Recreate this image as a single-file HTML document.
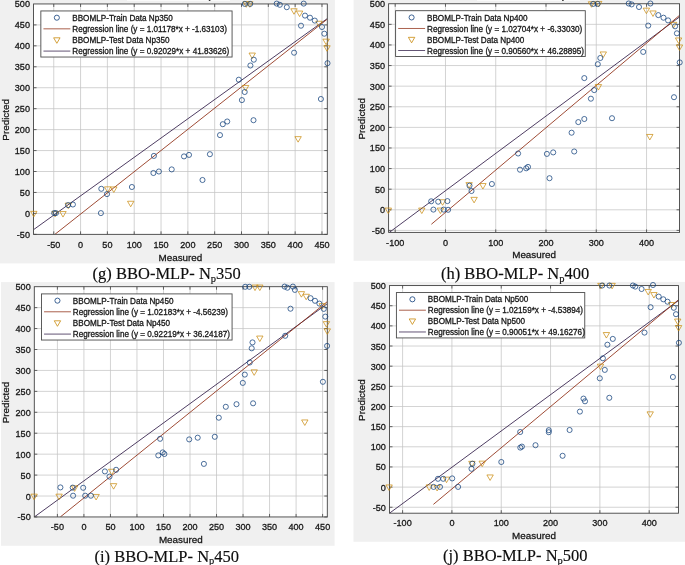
<!DOCTYPE html>
<html><head><meta charset="utf-8"><title>BBO-MLP regression plots</title>
<style>html,body{margin:0;padding:0;background:#fff;}body{width:685px;height:565px;overflow:hidden;}svg{display:block;}text{font-family:"Liberation Sans", sans-serif;fill:#161616;stroke:#161616;stroke-width:0.28px;}.cap{font-family:"Liberation Serif", serif;fill:#0c0c0c;stroke:#0c0c0c;stroke-width:0.15px;}</style>
</head><body>
<svg width="685" height="565" viewBox="0 0 685 565">
<defs><filter id="soft" x="-10" y="-10" width="705" height="585" filterUnits="userSpaceOnUse"><feGaussianBlur stdDeviation="0.38"/></filter></defs>
<rect x="0" y="0" width="685" height="565" fill="#ffffff"/>
<g filter="url(#soft)">
<rect x="-10" y="-10" width="705" height="585" fill="#ffffff"/>
<g>
<rect x="-6" y="-6" width="340.9" height="269.4" fill="#f0f0f0"/>
<rect x="33.55" y="3.95" width="293.75" height="230.4" fill="#ffffff"/>
<path d="M53.75 3.95V234.35M80.57 3.95V234.35M107.39 3.95V234.35M134.21 3.95V234.35M161.04 3.95V234.35M187.86 3.95V234.35M214.68 3.95V234.35M241.5 3.95V234.35M268.32 3.95V234.35M295.15 3.95V234.35M321.97 3.95V234.35M33.55 213.41H327.3M33.55 192.46H327.3M33.55 171.51H327.3M33.55 150.57H327.3M33.55 129.62H327.3M33.55 108.68H327.3M33.55 87.73H327.3M33.55 66.79H327.3M33.55 45.84H327.3M33.55 24.9H327.3" stroke="#c4c4c4" stroke-width="0.75" fill="none"/>
<clipPath id="c0"><rect x="33.55" y="3.95" width="293.75" height="230.4"/></clipPath>
<g clip-path="url(#c0)">
<line x1="33.9" y1="229.42" x2="327.6" y2="18.35" stroke="#2f1b47" stroke-width="0.85"/>
<line x1="54.82" y1="234.43" x2="326.8" y2="19.54" stroke="#8e2c12" stroke-width="0.85"/>
</g>
<path d="M53.75 234.35v-3M53.75 3.95v3M80.57 234.35v-3M80.57 3.95v3M107.39 234.35v-3M107.39 3.95v3M134.21 234.35v-3M134.21 3.95v3M161.04 234.35v-3M161.04 3.95v3M187.86 234.35v-3M187.86 3.95v3M214.68 234.35v-3M214.68 3.95v3M241.5 234.35v-3M241.5 3.95v3M268.32 234.35v-3M268.32 3.95v3M295.15 234.35v-3M295.15 3.95v3M321.97 234.35v-3M321.97 3.95v3M33.55 234.35h3M327.3 234.35h-3M33.55 213.41h3M327.3 213.41h-3M33.55 192.46h3M327.3 192.46h-3M33.55 171.51h3M327.3 171.51h-3M33.55 150.57h3M327.3 150.57h-3M33.55 129.62h3M327.3 129.62h-3M33.55 108.68h3M327.3 108.68h-3M33.55 87.73h3M327.3 87.73h-3M33.55 66.79h3M327.3 66.79h-3M33.55 45.84h3M327.3 45.84h-3M33.55 24.9h3M327.3 24.9h-3" stroke="#424242" stroke-width="0.8" fill="none"/>
<rect x="33.55" y="3.95" width="293.75" height="230.4" fill="none" stroke="#424242" stroke-width="0.9"/>
<path d="M30.6 211.35L37 211.35L33.8 216.85Z" fill="none" stroke="#c98a0c" stroke-width="0.72" stroke-linejoin="miter"/>
<path d="M51.9 211.35L58.3 211.35L55.1 216.85Z" fill="none" stroke="#c98a0c" stroke-width="0.72" stroke-linejoin="miter"/>
<path d="M59.8 211.55L66.2 211.55L63 217.05Z" fill="none" stroke="#c98a0c" stroke-width="0.72" stroke-linejoin="miter"/>
<path d="M65.1 203.15L71.5 203.15L68.3 208.65Z" fill="none" stroke="#c98a0c" stroke-width="0.72" stroke-linejoin="miter"/>
<path d="M104.4 186.85L110.8 186.85L107.6 192.35Z" fill="none" stroke="#c98a0c" stroke-width="0.72" stroke-linejoin="miter"/>
<path d="M110.6 186.95L117 186.95L113.8 192.45Z" fill="none" stroke="#c98a0c" stroke-width="0.72" stroke-linejoin="miter"/>
<path d="M127.5 201.25L133.9 201.25L130.7 206.75Z" fill="none" stroke="#c98a0c" stroke-width="0.72" stroke-linejoin="miter"/>
<path d="M242.4 85.45L248.8 85.45L245.6 90.95Z" fill="none" stroke="#c98a0c" stroke-width="0.72" stroke-linejoin="miter"/>
<path d="M294.9 136.65L301.3 136.65L298.1 142.15Z" fill="none" stroke="#c98a0c" stroke-width="0.72" stroke-linejoin="miter"/>
<path d="M243.1 1.75L249.5 1.75L246.3 7.25Z" fill="none" stroke="#c98a0c" stroke-width="0.72" stroke-linejoin="miter"/>
<path d="M246.6 1.75L253 1.75L249.8 7.25Z" fill="none" stroke="#c98a0c" stroke-width="0.72" stroke-linejoin="miter"/>
<path d="M290.8 8.75L297.2 8.75L294 14.25Z" fill="none" stroke="#c98a0c" stroke-width="0.72" stroke-linejoin="miter"/>
<path d="M296.4 11.05L302.8 11.05L299.6 16.55Z" fill="none" stroke="#c98a0c" stroke-width="0.72" stroke-linejoin="miter"/>
<path d="M315.8 21.25L322.2 21.25L319 26.75Z" fill="none" stroke="#c98a0c" stroke-width="0.72" stroke-linejoin="miter"/>
<path d="M322.9 39.15L329.3 39.15L326.1 44.65Z" fill="none" stroke="#c98a0c" stroke-width="0.72" stroke-linejoin="miter"/>
<path d="M323.8 45.75L330.2 45.75L327 51.25Z" fill="none" stroke="#c98a0c" stroke-width="0.72" stroke-linejoin="miter"/>
<path d="M249 53.05L255.4 53.05L252.2 58.55Z" fill="none" stroke="#c98a0c" stroke-width="0.72" stroke-linejoin="miter"/>
<circle cx="54.2" cy="213.1" r="2.55" fill="none" stroke="#0f3e7a" stroke-width="0.74"/>
<circle cx="55.9" cy="213.1" r="2.55" fill="none" stroke="#0f3e7a" stroke-width="0.74"/>
<circle cx="68.1" cy="205.1" r="2.55" fill="none" stroke="#0f3e7a" stroke-width="0.74"/>
<circle cx="72.9" cy="204.5" r="2.55" fill="none" stroke="#0f3e7a" stroke-width="0.74"/>
<circle cx="101.3" cy="188.8" r="2.55" fill="none" stroke="#0f3e7a" stroke-width="0.74"/>
<circle cx="107" cy="194.1" r="2.55" fill="none" stroke="#0f3e7a" stroke-width="0.74"/>
<circle cx="100.9" cy="213.1" r="2.55" fill="none" stroke="#0f3e7a" stroke-width="0.74"/>
<circle cx="131.9" cy="187" r="2.55" fill="none" stroke="#0f3e7a" stroke-width="0.74"/>
<circle cx="153.9" cy="155.9" r="2.55" fill="none" stroke="#0f3e7a" stroke-width="0.74"/>
<circle cx="153.4" cy="173" r="2.55" fill="none" stroke="#0f3e7a" stroke-width="0.74"/>
<circle cx="158.9" cy="171.5" r="2.55" fill="none" stroke="#0f3e7a" stroke-width="0.74"/>
<circle cx="171.7" cy="169.4" r="2.55" fill="none" stroke="#0f3e7a" stroke-width="0.74"/>
<circle cx="184" cy="156.4" r="2.55" fill="none" stroke="#0f3e7a" stroke-width="0.74"/>
<circle cx="189" cy="154.9" r="2.55" fill="none" stroke="#0f3e7a" stroke-width="0.74"/>
<circle cx="202.5" cy="180" r="2.55" fill="none" stroke="#0f3e7a" stroke-width="0.74"/>
<circle cx="209.9" cy="154.2" r="2.55" fill="none" stroke="#0f3e7a" stroke-width="0.74"/>
<circle cx="220" cy="135.1" r="2.55" fill="none" stroke="#0f3e7a" stroke-width="0.74"/>
<circle cx="222.8" cy="124.2" r="2.55" fill="none" stroke="#0f3e7a" stroke-width="0.74"/>
<circle cx="227.2" cy="121.5" r="2.55" fill="none" stroke="#0f3e7a" stroke-width="0.74"/>
<circle cx="253.5" cy="120.2" r="2.55" fill="none" stroke="#0f3e7a" stroke-width="0.74"/>
<circle cx="241.9" cy="100.1" r="2.55" fill="none" stroke="#0f3e7a" stroke-width="0.74"/>
<circle cx="244.7" cy="92" r="2.55" fill="none" stroke="#0f3e7a" stroke-width="0.74"/>
<circle cx="238.8" cy="79.7" r="2.55" fill="none" stroke="#0f3e7a" stroke-width="0.74"/>
<circle cx="250.4" cy="65.5" r="2.55" fill="none" stroke="#0f3e7a" stroke-width="0.74"/>
<circle cx="253.8" cy="59.7" r="2.55" fill="none" stroke="#0f3e7a" stroke-width="0.74"/>
<circle cx="320.9" cy="99" r="2.55" fill="none" stroke="#0f3e7a" stroke-width="0.74"/>
<circle cx="327.5" cy="63.2" r="2.55" fill="none" stroke="#0f3e7a" stroke-width="0.74"/>
<circle cx="244.8" cy="3.9" r="2.55" fill="none" stroke="#0f3e7a" stroke-width="0.74"/>
<circle cx="250.2" cy="3.9" r="2.55" fill="none" stroke="#0f3e7a" stroke-width="0.74"/>
<circle cx="276.7" cy="3.6" r="2.55" fill="none" stroke="#0f3e7a" stroke-width="0.74"/>
<circle cx="279.8" cy="4.8" r="2.55" fill="none" stroke="#0f3e7a" stroke-width="0.74"/>
<circle cx="286.8" cy="7.2" r="2.55" fill="none" stroke="#0f3e7a" stroke-width="0.74"/>
<circle cx="303.7" cy="3.6" r="2.55" fill="none" stroke="#0f3e7a" stroke-width="0.74"/>
<circle cx="305" cy="15.6" r="2.55" fill="none" stroke="#0f3e7a" stroke-width="0.74"/>
<circle cx="310" cy="17.7" r="2.55" fill="none" stroke="#0f3e7a" stroke-width="0.74"/>
<circle cx="314.8" cy="20.6" r="2.55" fill="none" stroke="#0f3e7a" stroke-width="0.74"/>
<circle cx="301" cy="25.7" r="2.55" fill="none" stroke="#0f3e7a" stroke-width="0.74"/>
<circle cx="322" cy="27" r="2.55" fill="none" stroke="#0f3e7a" stroke-width="0.74"/>
<circle cx="324.3" cy="33.7" r="2.55" fill="none" stroke="#0f3e7a" stroke-width="0.74"/>
<circle cx="294.1" cy="52.7" r="2.55" fill="none" stroke="#0f3e7a" stroke-width="0.74"/>
<text transform="translate(53.75 247.8) scale(1 1.09)" font-size="9.1" text-anchor="middle">-50</text>
<text transform="translate(80.57 247.8) scale(1 1.09)" font-size="9.1" text-anchor="middle">0</text>
<text transform="translate(107.39 247.8) scale(1 1.09)" font-size="9.1" text-anchor="middle">50</text>
<text transform="translate(134.21 247.8) scale(1 1.09)" font-size="9.1" text-anchor="middle">100</text>
<text transform="translate(161.04 247.8) scale(1 1.09)" font-size="9.1" text-anchor="middle">150</text>
<text transform="translate(187.86 247.8) scale(1 1.09)" font-size="9.1" text-anchor="middle">200</text>
<text transform="translate(214.68 247.8) scale(1 1.09)" font-size="9.1" text-anchor="middle">250</text>
<text transform="translate(241.5 247.8) scale(1 1.09)" font-size="9.1" text-anchor="middle">300</text>
<text transform="translate(268.32 247.8) scale(1 1.09)" font-size="9.1" text-anchor="middle">350</text>
<text transform="translate(295.15 247.8) scale(1 1.09)" font-size="9.1" text-anchor="middle">400</text>
<text transform="translate(321.97 247.8) scale(1 1.09)" font-size="9.1" text-anchor="middle">450</text>
<text transform="translate(29.95 237.85) scale(1 1.09)" font-size="9.1" text-anchor="end">-50</text>
<text transform="translate(29.95 216.91) scale(1 1.09)" font-size="9.1" text-anchor="end">0</text>
<text transform="translate(29.95 195.96) scale(1 1.09)" font-size="9.1" text-anchor="end">50</text>
<text transform="translate(29.95 175.01) scale(1 1.09)" font-size="9.1" text-anchor="end">100</text>
<text transform="translate(29.95 154.07) scale(1 1.09)" font-size="9.1" text-anchor="end">150</text>
<text transform="translate(29.95 133.12) scale(1 1.09)" font-size="9.1" text-anchor="end">200</text>
<text transform="translate(29.95 112.18) scale(1 1.09)" font-size="9.1" text-anchor="end">250</text>
<text transform="translate(29.95 91.23) scale(1 1.09)" font-size="9.1" text-anchor="end">300</text>
<text transform="translate(29.95 70.29) scale(1 1.09)" font-size="9.1" text-anchor="end">350</text>
<text transform="translate(29.95 49.34) scale(1 1.09)" font-size="9.1" text-anchor="end">400</text>
<text transform="translate(29.95 28.4) scale(1 1.09)" font-size="9.1" text-anchor="end">450</text>
<text transform="translate(29.95 7.45) scale(1 1.09)" font-size="9.1" text-anchor="end">500</text>
<text transform="translate(180.43 261) scale(1 1)" font-size="9.85" text-anchor="middle">Measured</text>
<text transform="translate(9.4 119.85) rotate(-90) scale(1 0.98)" font-size="9.85" text-anchor="middle">Predicted</text>
<rect x="40.85" y="10.95" width="191.22" height="46.08" fill="#ffffff" stroke="#4a4a4a" stroke-width="0.9"/>
<circle cx="56.85" cy="17.7" r="2.55" fill="none" stroke="#0f3e7a" stroke-width="0.8"/>
<line x1="43.45" y1="28.83" x2="70.35" y2="28.83" stroke="#8e2c12" stroke-width="0.75"/>
<path d="M53.65 37.8L60.05 37.8L56.85 43.3Z" fill="none" stroke="#c98a0c" stroke-width="0.8"/>
<line x1="43.45" y1="51.08" x2="70.35" y2="51.08" stroke="#2f1b47" stroke-width="0.75"/>
<text transform="translate(72.25 20.8) scale(1 1.09)" font-size="8.15">BBOMLP-Train Data Np350</text>
<text transform="translate(72.25 31.93) scale(1 1.09)" font-size="8.15">Regression line (y = 1.01178*x + -1.63103)</text>
<text transform="translate(72.25 43.05) scale(1 1.09)" font-size="8.15">BBOMLP-Test Data Np350</text>
<text transform="translate(72.25 54.18) scale(1 1.09)" font-size="8.15">Regression line (y = 0.92029*x + 41.83626)</text>
</g>
<g>
<rect x="353.6" y="-6" width="337.4" height="266.8" fill="#f0f0f0"/>
<rect x="388.6" y="3.75" width="290.95" height="228.65" fill="#ffffff"/>
<path d="M395.2 3.75V232.4M445.47 3.75V232.4M495.74 3.75V232.4M546.01 3.75V232.4M596.28 3.75V232.4M646.55 3.75V232.4M388.6 230.4H679.55M388.6 209.8H679.55M388.6 189.19H679.55M388.6 168.59H679.55M388.6 147.98H679.55M388.6 127.38H679.55M388.6 106.77H679.55M388.6 86.17H679.55M388.6 65.56H679.55M388.6 44.96H679.55M388.6 24.35H679.55" stroke="#c4c4c4" stroke-width="0.75" fill="none"/>
<clipPath id="c1"><rect x="388.6" y="3.75" width="290.95" height="228.65"/></clipPath>
<g clip-path="url(#c1)">
<line x1="388.41" y1="233.08" x2="680.48" y2="16.25" stroke="#2f1b47" stroke-width="0.85"/>
<line x1="431.39" y1="224.25" x2="680.48" y2="14.54" stroke="#8e2c12" stroke-width="0.85"/>
</g>
<path d="M395.2 232.4v-3M395.2 3.75v3M445.47 232.4v-3M445.47 3.75v3M495.74 232.4v-3M495.74 3.75v3M546.01 232.4v-3M546.01 3.75v3M596.28 232.4v-3M596.28 3.75v3M646.55 232.4v-3M646.55 3.75v3M388.6 230.4h3M679.55 230.4h-3M388.6 209.8h3M679.55 209.8h-3M388.6 189.19h3M679.55 189.19h-3M388.6 168.59h3M679.55 168.59h-3M388.6 147.98h3M679.55 147.98h-3M388.6 127.38h3M679.55 127.38h-3M388.6 106.77h3M679.55 106.77h-3M388.6 86.17h3M679.55 86.17h-3M388.6 65.56h3M679.55 65.56h-3M388.6 44.96h3M679.55 44.96h-3M388.6 24.35h3M679.55 24.35h-3" stroke="#424242" stroke-width="0.8" fill="none"/>
<rect x="388.6" y="3.75" width="290.95" height="228.65" fill="none" stroke="#424242" stroke-width="0.9"/>
<path d="M588.3 1.75L594.7 1.75L591.5 7.25Z" fill="none" stroke="#c98a0c" stroke-width="0.72" stroke-linejoin="miter"/>
<path d="M595.5 1.45L601.9 1.45L598.7 6.95Z" fill="none" stroke="#c98a0c" stroke-width="0.72" stroke-linejoin="miter"/>
<path d="M643.2 8.15L649.6 8.15L646.4 13.65Z" fill="none" stroke="#c98a0c" stroke-width="0.72" stroke-linejoin="miter"/>
<path d="M649.8 10.95L656.2 10.95L653 16.45Z" fill="none" stroke="#c98a0c" stroke-width="0.72" stroke-linejoin="miter"/>
<path d="M670.4 22.35L676.8 22.35L673.6 27.85Z" fill="none" stroke="#c98a0c" stroke-width="0.72" stroke-linejoin="miter"/>
<path d="M675.4 37.95L681.8 37.95L678.6 43.45Z" fill="none" stroke="#c98a0c" stroke-width="0.72" stroke-linejoin="miter"/>
<path d="M676.3 44.95L682.7 44.95L679.5 50.45Z" fill="none" stroke="#c98a0c" stroke-width="0.72" stroke-linejoin="miter"/>
<path d="M600.1 51.95L606.5 51.95L603.3 57.45Z" fill="none" stroke="#c98a0c" stroke-width="0.72" stroke-linejoin="miter"/>
<path d="M595.2 84.55L601.6 84.55L598.4 90.05Z" fill="none" stroke="#c98a0c" stroke-width="0.72" stroke-linejoin="miter"/>
<path d="M385.1 208.05L391.5 208.05L388.3 213.55Z" fill="none" stroke="#c98a0c" stroke-width="0.72" stroke-linejoin="miter"/>
<path d="M418.6 208.05L425 208.05L421.8 213.55Z" fill="none" stroke="#c98a0c" stroke-width="0.72" stroke-linejoin="miter"/>
<path d="M439.4 199.75L445.8 199.75L442.6 205.25Z" fill="none" stroke="#c98a0c" stroke-width="0.72" stroke-linejoin="miter"/>
<path d="M437.2 208.05L443.6 208.05L440.4 213.55Z" fill="none" stroke="#c98a0c" stroke-width="0.72" stroke-linejoin="miter"/>
<path d="M465.9 182.65L472.3 182.65L469.1 188.15Z" fill="none" stroke="#c98a0c" stroke-width="0.72" stroke-linejoin="miter"/>
<path d="M479.7 183.55L486.1 183.55L482.9 189.05Z" fill="none" stroke="#c98a0c" stroke-width="0.72" stroke-linejoin="miter"/>
<path d="M470.9 197.35L477.3 197.35L474.1 202.85Z" fill="none" stroke="#c98a0c" stroke-width="0.72" stroke-linejoin="miter"/>
<path d="M646.6 134.45L653 134.45L649.8 139.95Z" fill="none" stroke="#c98a0c" stroke-width="0.72" stroke-linejoin="miter"/>
<circle cx="593.2" cy="3.9" r="2.55" fill="none" stroke="#0f3e7a" stroke-width="0.74"/>
<circle cx="597.6" cy="3.9" r="2.55" fill="none" stroke="#0f3e7a" stroke-width="0.74"/>
<circle cx="628.7" cy="3.5" r="2.55" fill="none" stroke="#0f3e7a" stroke-width="0.74"/>
<circle cx="631.6" cy="4.4" r="2.55" fill="none" stroke="#0f3e7a" stroke-width="0.74"/>
<circle cx="639" cy="7" r="2.55" fill="none" stroke="#0f3e7a" stroke-width="0.74"/>
<circle cx="650.4" cy="3.5" r="2.55" fill="none" stroke="#0f3e7a" stroke-width="0.74"/>
<circle cx="648.2" cy="25.6" r="2.55" fill="none" stroke="#0f3e7a" stroke-width="0.74"/>
<circle cx="658.3" cy="15.1" r="2.55" fill="none" stroke="#0f3e7a" stroke-width="0.74"/>
<circle cx="663.5" cy="17.7" r="2.55" fill="none" stroke="#0f3e7a" stroke-width="0.74"/>
<circle cx="668.1" cy="20.4" r="2.55" fill="none" stroke="#0f3e7a" stroke-width="0.74"/>
<circle cx="675.1" cy="26.3" r="2.55" fill="none" stroke="#0f3e7a" stroke-width="0.74"/>
<circle cx="676.9" cy="33.3" r="2.55" fill="none" stroke="#0f3e7a" stroke-width="0.74"/>
<circle cx="643.2" cy="51.9" r="2.55" fill="none" stroke="#0f3e7a" stroke-width="0.74"/>
<circle cx="679.7" cy="62.4" r="2.55" fill="none" stroke="#0f3e7a" stroke-width="0.74"/>
<circle cx="674" cy="97.2" r="2.55" fill="none" stroke="#0f3e7a" stroke-width="0.74"/>
<circle cx="600.3" cy="58" r="2.55" fill="none" stroke="#0f3e7a" stroke-width="0.74"/>
<circle cx="597.8" cy="64.2" r="2.55" fill="none" stroke="#0f3e7a" stroke-width="0.74"/>
<circle cx="584.3" cy="78.1" r="2.55" fill="none" stroke="#0f3e7a" stroke-width="0.74"/>
<circle cx="594.2" cy="90.1" r="2.55" fill="none" stroke="#0f3e7a" stroke-width="0.74"/>
<circle cx="590.9" cy="98.7" r="2.55" fill="none" stroke="#0f3e7a" stroke-width="0.74"/>
<circle cx="584.3" cy="119" r="2.55" fill="none" stroke="#0f3e7a" stroke-width="0.74"/>
<circle cx="612" cy="118.2" r="2.55" fill="none" stroke="#0f3e7a" stroke-width="0.74"/>
<circle cx="578.3" cy="122.1" r="2.55" fill="none" stroke="#0f3e7a" stroke-width="0.74"/>
<circle cx="431.2" cy="201.3" r="2.55" fill="none" stroke="#0f3e7a" stroke-width="0.74"/>
<circle cx="438.2" cy="201.7" r="2.55" fill="none" stroke="#0f3e7a" stroke-width="0.74"/>
<circle cx="447.4" cy="201.1" r="2.55" fill="none" stroke="#0f3e7a" stroke-width="0.74"/>
<circle cx="433.4" cy="209.6" r="2.55" fill="none" stroke="#0f3e7a" stroke-width="0.74"/>
<circle cx="443.7" cy="209.6" r="2.55" fill="none" stroke="#0f3e7a" stroke-width="0.74"/>
<circle cx="448.1" cy="209.8" r="2.55" fill="none" stroke="#0f3e7a" stroke-width="0.74"/>
<circle cx="469.5" cy="185.7" r="2.55" fill="none" stroke="#0f3e7a" stroke-width="0.74"/>
<circle cx="471.5" cy="191" r="2.55" fill="none" stroke="#0f3e7a" stroke-width="0.74"/>
<circle cx="491.9" cy="184" r="2.55" fill="none" stroke="#0f3e7a" stroke-width="0.74"/>
<circle cx="518.1" cy="153.5" r="2.55" fill="none" stroke="#0f3e7a" stroke-width="0.74"/>
<circle cx="520" cy="169.7" r="2.55" fill="none" stroke="#0f3e7a" stroke-width="0.74"/>
<circle cx="526.2" cy="168.3" r="2.55" fill="none" stroke="#0f3e7a" stroke-width="0.74"/>
<circle cx="528" cy="166.9" r="2.55" fill="none" stroke="#0f3e7a" stroke-width="0.74"/>
<circle cx="571.6" cy="132.7" r="2.55" fill="none" stroke="#0f3e7a" stroke-width="0.74"/>
<circle cx="574.2" cy="151.5" r="2.55" fill="none" stroke="#0f3e7a" stroke-width="0.74"/>
<circle cx="553.2" cy="152.4" r="2.55" fill="none" stroke="#0f3e7a" stroke-width="0.74"/>
<circle cx="546.9" cy="153.9" r="2.55" fill="none" stroke="#0f3e7a" stroke-width="0.74"/>
<circle cx="549.5" cy="178.2" r="2.55" fill="none" stroke="#0f3e7a" stroke-width="0.74"/>
<text transform="translate(395.2 245.7) scale(1 1.09)" font-size="9.1" text-anchor="middle">-100</text>
<text transform="translate(445.47 245.7) scale(1 1.09)" font-size="9.1" text-anchor="middle">0</text>
<text transform="translate(495.74 245.7) scale(1 1.09)" font-size="9.1" text-anchor="middle">100</text>
<text transform="translate(546.01 245.7) scale(1 1.09)" font-size="9.1" text-anchor="middle">200</text>
<text transform="translate(596.28 245.7) scale(1 1.09)" font-size="9.1" text-anchor="middle">300</text>
<text transform="translate(646.55 245.7) scale(1 1.09)" font-size="9.1" text-anchor="middle">400</text>
<text transform="translate(385 233.9) scale(1 1.09)" font-size="9.1" text-anchor="end">-50</text>
<text transform="translate(385 213.3) scale(1 1.09)" font-size="9.1" text-anchor="end">0</text>
<text transform="translate(385 192.69) scale(1 1.09)" font-size="9.1" text-anchor="end">50</text>
<text transform="translate(385 172.09) scale(1 1.09)" font-size="9.1" text-anchor="end">100</text>
<text transform="translate(385 151.48) scale(1 1.09)" font-size="9.1" text-anchor="end">150</text>
<text transform="translate(385 130.88) scale(1 1.09)" font-size="9.1" text-anchor="end">200</text>
<text transform="translate(385 110.27) scale(1 1.09)" font-size="9.1" text-anchor="end">250</text>
<text transform="translate(385 89.67) scale(1 1.09)" font-size="9.1" text-anchor="end">300</text>
<text transform="translate(385 69.06) scale(1 1.09)" font-size="9.1" text-anchor="end">350</text>
<text transform="translate(385 48.46) scale(1 1.09)" font-size="9.1" text-anchor="end">400</text>
<text transform="translate(385 27.85) scale(1 1.09)" font-size="9.1" text-anchor="end">450</text>
<text transform="translate(385 7.25) scale(1 1.09)" font-size="9.1" text-anchor="end">500</text>
<text transform="translate(534.08 258.3) scale(1 1)" font-size="9.85" text-anchor="middle">Measured</text>
<text transform="translate(365 118.78) rotate(-90) scale(1 0.98)" font-size="9.85" text-anchor="middle">Predicted</text>
<rect x="395.6" y="10.7" width="189.68" height="45.75" fill="#ffffff" stroke="#4a4a4a" stroke-width="0.9"/>
<circle cx="411.6" cy="17.45" r="2.55" fill="none" stroke="#0f3e7a" stroke-width="0.8"/>
<line x1="398.2" y1="28.47" x2="425.1" y2="28.47" stroke="#8e2c12" stroke-width="0.75"/>
<path d="M408.4 37.33L414.8 37.33L411.6 42.83Z" fill="none" stroke="#c98a0c" stroke-width="0.8"/>
<line x1="398.2" y1="50.5" x2="425.1" y2="50.5" stroke="#2f1b47" stroke-width="0.75"/>
<text transform="translate(427 20.55) scale(1 1.09)" font-size="8.15">BBOMLP-Train Data Np400</text>
<text transform="translate(427 31.57) scale(1 1.09)" font-size="8.15">Regression line (y = 1.02704*x + -6.33030)</text>
<text transform="translate(427 42.58) scale(1 1.09)" font-size="8.15">BBOMLP-Test Data Np400</text>
<text transform="translate(427 53.6) scale(1 1.09)" font-size="8.15">Regression line (y = 0.90560*x + 46.28895)</text>
</g>
<g>
<rect x="1" y="282.1" width="333.6" height="263.7" fill="#f0f0f0"/>
<rect x="34.3" y="286.7" width="293" height="230.25" fill="#ffffff"/>
<path d="M57.4 286.7V516.95M83.92 286.7V516.95M110.44 286.7V516.95M136.96 286.7V516.95M163.48 286.7V516.95M190 286.7V516.95M216.52 286.7V516.95M243.04 286.7V516.95M269.56 286.7V516.95M296.08 286.7V516.95M322.6 286.7V516.95M34.3 496.02H327.3M34.3 475.09H327.3M34.3 454.16H327.3M34.3 433.22H327.3M34.3 412.29H327.3M34.3 391.36H327.3M34.3 370.43H327.3M34.3 349.5H327.3M34.3 328.56H327.3M34.3 307.63H327.3" stroke="#c4c4c4" stroke-width="0.75" fill="none"/>
<clipPath id="c2"><rect x="34.3" y="286.7" width="293" height="230.25"/></clipPath>
<g clip-path="url(#c2)">
<line x1="34.38" y1="516.91" x2="327.11" y2="303.84" stroke="#2f1b47" stroke-width="0.85"/>
<line x1="60.42" y1="516.88" x2="327.11" y2="301.79" stroke="#8e2c12" stroke-width="0.85"/>
</g>
<path d="M57.4 516.95v-3M57.4 286.7v3M83.92 516.95v-3M83.92 286.7v3M110.44 516.95v-3M110.44 286.7v3M136.96 516.95v-3M136.96 286.7v3M163.48 516.95v-3M163.48 286.7v3M190 516.95v-3M190 286.7v3M216.52 516.95v-3M216.52 286.7v3M243.04 516.95v-3M243.04 286.7v3M269.56 516.95v-3M269.56 286.7v3M296.08 516.95v-3M296.08 286.7v3M322.6 516.95v-3M322.6 286.7v3M34.3 516.95h3M327.3 516.95h-3M34.3 496.02h3M327.3 496.02h-3M34.3 475.09h3M327.3 475.09h-3M34.3 454.16h3M327.3 454.16h-3M34.3 433.22h3M327.3 433.22h-3M34.3 412.29h3M327.3 412.29h-3M34.3 391.36h3M327.3 391.36h-3M34.3 370.43h3M327.3 370.43h-3M34.3 349.5h3M327.3 349.5h-3M34.3 328.56h3M327.3 328.56h-3M34.3 307.63h3M327.3 307.63h-3" stroke="#424242" stroke-width="0.8" fill="none"/>
<rect x="34.3" y="286.7" width="293" height="230.25" fill="none" stroke="#424242" stroke-width="0.9"/>
<path d="M30.9 494.15L37.3 494.15L34.1 499.65Z" fill="none" stroke="#c98a0c" stroke-width="0.72" stroke-linejoin="miter"/>
<path d="M55.9 494.15L62.3 494.15L59.1 499.65Z" fill="none" stroke="#c98a0c" stroke-width="0.72" stroke-linejoin="miter"/>
<path d="M71.4 485.85L77.8 485.85L74.6 491.35Z" fill="none" stroke="#c98a0c" stroke-width="0.72" stroke-linejoin="miter"/>
<path d="M92.9 494.45L99.3 494.45L96.1 499.95Z" fill="none" stroke="#c98a0c" stroke-width="0.72" stroke-linejoin="miter"/>
<path d="M108.5 469.25L114.9 469.25L111.7 474.75Z" fill="none" stroke="#c98a0c" stroke-width="0.72" stroke-linejoin="miter"/>
<path d="M110.4 483.65L116.8 483.65L113.6 489.15Z" fill="none" stroke="#c98a0c" stroke-width="0.72" stroke-linejoin="miter"/>
<path d="M251 369.85L257.4 369.85L254.2 375.35Z" fill="none" stroke="#c98a0c" stroke-width="0.72" stroke-linejoin="miter"/>
<path d="M256.6 336.05L263 336.05L259.8 341.55Z" fill="none" stroke="#c98a0c" stroke-width="0.72" stroke-linejoin="miter"/>
<path d="M251.8 285.05L258.2 285.05L255 290.55Z" fill="none" stroke="#c98a0c" stroke-width="0.72" stroke-linejoin="miter"/>
<path d="M256.6 285.05L263 285.05L259.8 290.55Z" fill="none" stroke="#c98a0c" stroke-width="0.72" stroke-linejoin="miter"/>
<path d="M298.2 291.65L304.6 291.65L301.4 297.15Z" fill="none" stroke="#c98a0c" stroke-width="0.72" stroke-linejoin="miter"/>
<path d="M303 294.25L309.4 294.25L306.2 299.75Z" fill="none" stroke="#c98a0c" stroke-width="0.72" stroke-linejoin="miter"/>
<path d="M319 303.65L325.4 303.65L322.2 309.15Z" fill="none" stroke="#c98a0c" stroke-width="0.72" stroke-linejoin="miter"/>
<path d="M323.2 321.65L329.6 321.65L326.4 327.15Z" fill="none" stroke="#c98a0c" stroke-width="0.72" stroke-linejoin="miter"/>
<path d="M324.1 328.85L330.5 328.85L327.3 334.35Z" fill="none" stroke="#c98a0c" stroke-width="0.72" stroke-linejoin="miter"/>
<path d="M301.6 419.95L308 419.95L304.8 425.45Z" fill="none" stroke="#c98a0c" stroke-width="0.72" stroke-linejoin="miter"/>
<circle cx="60.4" cy="487.4" r="2.55" fill="none" stroke="#0f3e7a" stroke-width="0.74"/>
<circle cx="72.7" cy="487.6" r="2.55" fill="none" stroke="#0f3e7a" stroke-width="0.74"/>
<circle cx="83.2" cy="487.8" r="2.55" fill="none" stroke="#0f3e7a" stroke-width="0.74"/>
<circle cx="73.1" cy="495.7" r="2.55" fill="none" stroke="#0f3e7a" stroke-width="0.74"/>
<circle cx="85.2" cy="495.7" r="2.55" fill="none" stroke="#0f3e7a" stroke-width="0.74"/>
<circle cx="90.9" cy="495.7" r="2.55" fill="none" stroke="#0f3e7a" stroke-width="0.74"/>
<circle cx="104.9" cy="471.4" r="2.55" fill="none" stroke="#0f3e7a" stroke-width="0.74"/>
<circle cx="109.5" cy="476.6" r="2.55" fill="none" stroke="#0f3e7a" stroke-width="0.74"/>
<circle cx="116.1" cy="469.8" r="2.55" fill="none" stroke="#0f3e7a" stroke-width="0.74"/>
<circle cx="160.1" cy="438.8" r="2.55" fill="none" stroke="#0f3e7a" stroke-width="0.74"/>
<circle cx="158.3" cy="455.4" r="2.55" fill="none" stroke="#0f3e7a" stroke-width="0.74"/>
<circle cx="162.7" cy="452.4" r="2.55" fill="none" stroke="#0f3e7a" stroke-width="0.74"/>
<circle cx="164.4" cy="454" r="2.55" fill="none" stroke="#0f3e7a" stroke-width="0.74"/>
<circle cx="252.5" cy="342.4" r="2.55" fill="none" stroke="#0f3e7a" stroke-width="0.74"/>
<circle cx="251.7" cy="348.3" r="2.55" fill="none" stroke="#0f3e7a" stroke-width="0.74"/>
<circle cx="249.7" cy="362.5" r="2.55" fill="none" stroke="#0f3e7a" stroke-width="0.74"/>
<circle cx="244.8" cy="374.6" r="2.55" fill="none" stroke="#0f3e7a" stroke-width="0.74"/>
<circle cx="242.8" cy="382.9" r="2.55" fill="none" stroke="#0f3e7a" stroke-width="0.74"/>
<circle cx="253.1" cy="403.3" r="2.55" fill="none" stroke="#0f3e7a" stroke-width="0.74"/>
<circle cx="236.5" cy="404.2" r="2.55" fill="none" stroke="#0f3e7a" stroke-width="0.74"/>
<circle cx="225.8" cy="406.8" r="2.55" fill="none" stroke="#0f3e7a" stroke-width="0.74"/>
<circle cx="218.8" cy="417.7" r="2.55" fill="none" stroke="#0f3e7a" stroke-width="0.74"/>
<circle cx="214.8" cy="436.8" r="2.55" fill="none" stroke="#0f3e7a" stroke-width="0.74"/>
<circle cx="197.7" cy="437.7" r="2.55" fill="none" stroke="#0f3e7a" stroke-width="0.74"/>
<circle cx="189.2" cy="439.4" r="2.55" fill="none" stroke="#0f3e7a" stroke-width="0.74"/>
<circle cx="203.9" cy="463.9" r="2.55" fill="none" stroke="#0f3e7a" stroke-width="0.74"/>
<circle cx="245.2" cy="286.8" r="2.55" fill="none" stroke="#0f3e7a" stroke-width="0.74"/>
<circle cx="249.3" cy="286.8" r="2.55" fill="none" stroke="#0f3e7a" stroke-width="0.74"/>
<circle cx="284.6" cy="286.6" r="2.55" fill="none" stroke="#0f3e7a" stroke-width="0.74"/>
<circle cx="287.4" cy="287.7" r="2.55" fill="none" stroke="#0f3e7a" stroke-width="0.74"/>
<circle cx="292.9" cy="286.6" r="2.55" fill="none" stroke="#0f3e7a" stroke-width="0.74"/>
<circle cx="294.9" cy="289.9" r="2.55" fill="none" stroke="#0f3e7a" stroke-width="0.74"/>
<circle cx="290.5" cy="308.7" r="2.55" fill="none" stroke="#0f3e7a" stroke-width="0.74"/>
<circle cx="310.6" cy="298.2" r="2.55" fill="none" stroke="#0f3e7a" stroke-width="0.74"/>
<circle cx="315" cy="300.8" r="2.55" fill="none" stroke="#0f3e7a" stroke-width="0.74"/>
<circle cx="319.4" cy="303.6" r="2.55" fill="none" stroke="#0f3e7a" stroke-width="0.74"/>
<circle cx="323.8" cy="308.9" r="2.55" fill="none" stroke="#0f3e7a" stroke-width="0.74"/>
<circle cx="325.3" cy="316.6" r="2.55" fill="none" stroke="#0f3e7a" stroke-width="0.74"/>
<circle cx="327.1" cy="345.9" r="2.55" fill="none" stroke="#0f3e7a" stroke-width="0.74"/>
<circle cx="322.9" cy="381.8" r="2.55" fill="none" stroke="#0f3e7a" stroke-width="0.74"/>
<circle cx="285.2" cy="335.8" r="2.55" fill="none" stroke="#0f3e7a" stroke-width="0.74"/>
<text transform="translate(57.4 530.3) scale(1 1.09)" font-size="9.1" text-anchor="middle">-50</text>
<text transform="translate(83.92 530.3) scale(1 1.09)" font-size="9.1" text-anchor="middle">0</text>
<text transform="translate(110.44 530.3) scale(1 1.09)" font-size="9.1" text-anchor="middle">50</text>
<text transform="translate(136.96 530.3) scale(1 1.09)" font-size="9.1" text-anchor="middle">100</text>
<text transform="translate(163.48 530.3) scale(1 1.09)" font-size="9.1" text-anchor="middle">150</text>
<text transform="translate(190 530.3) scale(1 1.09)" font-size="9.1" text-anchor="middle">200</text>
<text transform="translate(216.52 530.3) scale(1 1.09)" font-size="9.1" text-anchor="middle">250</text>
<text transform="translate(243.04 530.3) scale(1 1.09)" font-size="9.1" text-anchor="middle">300</text>
<text transform="translate(269.56 530.3) scale(1 1.09)" font-size="9.1" text-anchor="middle">350</text>
<text transform="translate(296.08 530.3) scale(1 1.09)" font-size="9.1" text-anchor="middle">400</text>
<text transform="translate(322.6 530.3) scale(1 1.09)" font-size="9.1" text-anchor="middle">450</text>
<text transform="translate(30.7 520.45) scale(1 1.09)" font-size="9.1" text-anchor="end">-50</text>
<text transform="translate(30.7 499.52) scale(1 1.09)" font-size="9.1" text-anchor="end">0</text>
<text transform="translate(30.7 478.59) scale(1 1.09)" font-size="9.1" text-anchor="end">50</text>
<text transform="translate(30.7 457.66) scale(1 1.09)" font-size="9.1" text-anchor="end">100</text>
<text transform="translate(30.7 436.72) scale(1 1.09)" font-size="9.1" text-anchor="end">150</text>
<text transform="translate(30.7 415.79) scale(1 1.09)" font-size="9.1" text-anchor="end">200</text>
<text transform="translate(30.7 394.86) scale(1 1.09)" font-size="9.1" text-anchor="end">250</text>
<text transform="translate(30.7 373.93) scale(1 1.09)" font-size="9.1" text-anchor="end">300</text>
<text transform="translate(30.7 353) scale(1 1.09)" font-size="9.1" text-anchor="end">350</text>
<text transform="translate(30.7 332.06) scale(1 1.09)" font-size="9.1" text-anchor="end">400</text>
<text transform="translate(30.7 311.13) scale(1 1.09)" font-size="9.1" text-anchor="end">450</text>
<text transform="translate(30.7 290.2) scale(1 1.09)" font-size="9.1" text-anchor="end">500</text>
<text transform="translate(180.8 543.4) scale(1 1)" font-size="9.85" text-anchor="middle">Measured</text>
<text transform="translate(9.4 402.53) rotate(-90) scale(1 0.98)" font-size="9.85" text-anchor="middle">Predicted</text>
<rect x="41.45" y="293.9" width="190.62" height="46.13" fill="#ffffff" stroke="#4a4a4a" stroke-width="0.9"/>
<circle cx="57.45" cy="300.65" r="2.55" fill="none" stroke="#0f3e7a" stroke-width="0.8"/>
<line x1="44.05" y1="311.79" x2="70.95" y2="311.79" stroke="#8e2c12" stroke-width="0.75"/>
<path d="M54.25 320.79L60.65 320.79L57.45 326.29Z" fill="none" stroke="#c98a0c" stroke-width="0.8"/>
<line x1="44.05" y1="334.08" x2="70.95" y2="334.08" stroke="#2f1b47" stroke-width="0.75"/>
<text transform="translate(72.85 303.75) scale(1 1.09)" font-size="8.15">BBOMLP-Train Data Np450</text>
<text transform="translate(72.85 314.89) scale(1 1.09)" font-size="8.15">Regression line (y = 1.02183*x + -4.56239)</text>
<text transform="translate(72.85 326.04) scale(1 1.09)" font-size="8.15">BBOMLP-Test Data Np450</text>
<text transform="translate(72.85 337.18) scale(1 1.09)" font-size="8.15">Regression line (y = 0.92219*x + 36.24187)</text>
</g>
<g>
<rect x="353.5" y="281.9" width="337.5" height="259.9" fill="#f0f0f0"/>
<rect x="389.5" y="285.57" width="289.03" height="227.63" fill="#ffffff"/>
<path d="M402.6 285.57V513.2M451.92 285.57V513.2M501.24 285.57V513.2M550.56 285.57V513.2M599.88 285.57V513.2M649.2 285.57V513.2M389.5 507.25H678.53M389.5 487.1H678.53M389.5 466.94H678.53M389.5 446.79H678.53M389.5 426.64H678.53M389.5 406.49H678.53M389.5 386.33H678.53M389.5 366.18H678.53M389.5 346.03H678.53M389.5 325.88H678.53M389.5 305.72H678.53" stroke="#c4c4c4" stroke-width="0.75" fill="none"/>
<clipPath id="c3"><rect x="389.5" y="285.57" width="289.03" height="227.63"/></clipPath>
<g clip-path="url(#c3)">
<line x1="389.28" y1="513.37" x2="679.29" y2="299.96" stroke="#2f1b47" stroke-width="0.85"/>
<line x1="433.43" y1="504.37" x2="679.29" y2="299.11" stroke="#8e2c12" stroke-width="0.85"/>
</g>
<path d="M402.6 513.2v-3M402.6 285.57v3M451.92 513.2v-3M451.92 285.57v3M501.24 513.2v-3M501.24 285.57v3M550.56 513.2v-3M550.56 285.57v3M599.88 513.2v-3M599.88 285.57v3M649.2 513.2v-3M649.2 285.57v3M389.5 507.25h3M678.53 507.25h-3M389.5 487.1h3M678.53 487.1h-3M389.5 466.94h3M678.53 466.94h-3M389.5 446.79h3M678.53 446.79h-3M389.5 426.64h3M678.53 426.64h-3M389.5 406.49h3M678.53 406.49h-3M389.5 386.33h3M678.53 386.33h-3M389.5 366.18h3M678.53 366.18h-3M389.5 346.03h3M678.53 346.03h-3M389.5 325.88h3M678.53 325.88h-3M389.5 305.72h3M678.53 305.72h-3" stroke="#424242" stroke-width="0.8" fill="none"/>
<rect x="389.5" y="285.57" width="289.03" height="227.63" fill="none" stroke="#424242" stroke-width="0.9"/>
<path d="M385.9 484.95L392.3 484.95L389.1 490.45Z" fill="none" stroke="#c98a0c" stroke-width="0.72" stroke-linejoin="miter"/>
<path d="M426 484.95L432.4 484.95L429.2 490.45Z" fill="none" stroke="#c98a0c" stroke-width="0.72" stroke-linejoin="miter"/>
<path d="M433.9 485.45L440.3 485.45L437.1 490.95Z" fill="none" stroke="#c98a0c" stroke-width="0.72" stroke-linejoin="miter"/>
<path d="M443.3 477.15L449.7 477.15L446.5 482.65Z" fill="none" stroke="#c98a0c" stroke-width="0.72" stroke-linejoin="miter"/>
<path d="M468.7 461.35L475.1 461.35L471.9 466.85Z" fill="none" stroke="#c98a0c" stroke-width="0.72" stroke-linejoin="miter"/>
<path d="M479 461.15L485.4 461.15L482.2 466.65Z" fill="none" stroke="#c98a0c" stroke-width="0.72" stroke-linejoin="miter"/>
<path d="M486.9 474.95L493.3 474.95L490.1 480.45Z" fill="none" stroke="#c98a0c" stroke-width="0.72" stroke-linejoin="miter"/>
<path d="M597.3 364.15L603.7 364.15L600.5 369.65Z" fill="none" stroke="#c98a0c" stroke-width="0.72" stroke-linejoin="miter"/>
<path d="M647 411.85L653.4 411.85L650.2 417.35Z" fill="none" stroke="#c98a0c" stroke-width="0.72" stroke-linejoin="miter"/>
<path d="M597.7 283.35L604.1 283.35L600.9 288.85Z" fill="none" stroke="#c98a0c" stroke-width="0.72" stroke-linejoin="miter"/>
<path d="M608.9 283.35L615.3 283.35L612.1 288.85Z" fill="none" stroke="#c98a0c" stroke-width="0.72" stroke-linejoin="miter"/>
<path d="M645 289.45L651.4 289.45L648.2 294.95Z" fill="none" stroke="#c98a0c" stroke-width="0.72" stroke-linejoin="miter"/>
<path d="M650.7 292.55L657.1 292.55L653.9 298.05Z" fill="none" stroke="#c98a0c" stroke-width="0.72" stroke-linejoin="miter"/>
<path d="M668.4 302.55L674.8 302.55L671.6 308.05Z" fill="none" stroke="#c98a0c" stroke-width="0.72" stroke-linejoin="miter"/>
<path d="M674.5 319.05L680.9 319.05L677.7 324.55Z" fill="none" stroke="#c98a0c" stroke-width="0.72" stroke-linejoin="miter"/>
<path d="M675.4 325.55L681.8 325.55L678.6 331.05Z" fill="none" stroke="#c98a0c" stroke-width="0.72" stroke-linejoin="miter"/>
<path d="M603.2 332.55L609.6 332.55L606.4 338.05Z" fill="none" stroke="#c98a0c" stroke-width="0.72" stroke-linejoin="miter"/>
<circle cx="438" cy="478.8" r="2.55" fill="none" stroke="#0f3e7a" stroke-width="0.74"/>
<circle cx="443.2" cy="478.8" r="2.55" fill="none" stroke="#0f3e7a" stroke-width="0.74"/>
<circle cx="452.2" cy="478.4" r="2.55" fill="none" stroke="#0f3e7a" stroke-width="0.74"/>
<circle cx="433.6" cy="486.9" r="2.55" fill="none" stroke="#0f3e7a" stroke-width="0.74"/>
<circle cx="440" cy="486.9" r="2.55" fill="none" stroke="#0f3e7a" stroke-width="0.74"/>
<circle cx="458.1" cy="486.9" r="2.55" fill="none" stroke="#0f3e7a" stroke-width="0.74"/>
<circle cx="472.4" cy="463.7" r="2.55" fill="none" stroke="#0f3e7a" stroke-width="0.74"/>
<circle cx="471.5" cy="468.8" r="2.55" fill="none" stroke="#0f3e7a" stroke-width="0.74"/>
<circle cx="501.3" cy="462" r="2.55" fill="none" stroke="#0f3e7a" stroke-width="0.74"/>
<circle cx="520.2" cy="432" r="2.55" fill="none" stroke="#0f3e7a" stroke-width="0.74"/>
<circle cx="520.3" cy="447.6" r="2.55" fill="none" stroke="#0f3e7a" stroke-width="0.74"/>
<circle cx="521.9" cy="446.6" r="2.55" fill="none" stroke="#0f3e7a" stroke-width="0.74"/>
<circle cx="535.5" cy="445.2" r="2.55" fill="none" stroke="#0f3e7a" stroke-width="0.74"/>
<circle cx="612.8" cy="338.9" r="2.55" fill="none" stroke="#0f3e7a" stroke-width="0.74"/>
<circle cx="607.4" cy="344.7" r="2.55" fill="none" stroke="#0f3e7a" stroke-width="0.74"/>
<circle cx="602.9" cy="358.3" r="2.55" fill="none" stroke="#0f3e7a" stroke-width="0.74"/>
<circle cx="604.8" cy="369.9" r="2.55" fill="none" stroke="#0f3e7a" stroke-width="0.74"/>
<circle cx="599.8" cy="378.3" r="2.55" fill="none" stroke="#0f3e7a" stroke-width="0.74"/>
<circle cx="609.3" cy="397.8" r="2.55" fill="none" stroke="#0f3e7a" stroke-width="0.74"/>
<circle cx="583.5" cy="398.6" r="2.55" fill="none" stroke="#0f3e7a" stroke-width="0.74"/>
<circle cx="585" cy="401.3" r="2.55" fill="none" stroke="#0f3e7a" stroke-width="0.74"/>
<circle cx="579.9" cy="411.6" r="2.55" fill="none" stroke="#0f3e7a" stroke-width="0.74"/>
<circle cx="569.6" cy="430" r="2.55" fill="none" stroke="#0f3e7a" stroke-width="0.74"/>
<circle cx="548.8" cy="430.2" r="2.55" fill="none" stroke="#0f3e7a" stroke-width="0.74"/>
<circle cx="548.8" cy="432.2" r="2.55" fill="none" stroke="#0f3e7a" stroke-width="0.74"/>
<circle cx="562.6" cy="455.8" r="2.55" fill="none" stroke="#0f3e7a" stroke-width="0.74"/>
<circle cx="602.2" cy="285.5" r="2.55" fill="none" stroke="#0f3e7a" stroke-width="0.74"/>
<circle cx="609.4" cy="285.5" r="2.55" fill="none" stroke="#0f3e7a" stroke-width="0.74"/>
<circle cx="632.9" cy="285.5" r="2.55" fill="none" stroke="#0f3e7a" stroke-width="0.74"/>
<circle cx="635.3" cy="286.6" r="2.55" fill="none" stroke="#0f3e7a" stroke-width="0.74"/>
<circle cx="641.6" cy="289" r="2.55" fill="none" stroke="#0f3e7a" stroke-width="0.74"/>
<circle cx="653" cy="285" r="2.55" fill="none" stroke="#0f3e7a" stroke-width="0.74"/>
<circle cx="650.6" cy="307.2" r="2.55" fill="none" stroke="#0f3e7a" stroke-width="0.74"/>
<circle cx="658.7" cy="296.6" r="2.55" fill="none" stroke="#0f3e7a" stroke-width="0.74"/>
<circle cx="663.3" cy="299.3" r="2.55" fill="none" stroke="#0f3e7a" stroke-width="0.74"/>
<circle cx="667.5" cy="301.7" r="2.55" fill="none" stroke="#0f3e7a" stroke-width="0.74"/>
<circle cx="673.8" cy="307.8" r="2.55" fill="none" stroke="#0f3e7a" stroke-width="0.74"/>
<circle cx="676" cy="314.2" r="2.55" fill="none" stroke="#0f3e7a" stroke-width="0.74"/>
<circle cx="644.5" cy="332.6" r="2.55" fill="none" stroke="#0f3e7a" stroke-width="0.74"/>
<circle cx="678.9" cy="342.8" r="2.55" fill="none" stroke="#0f3e7a" stroke-width="0.74"/>
<circle cx="672.9" cy="377" r="2.55" fill="none" stroke="#0f3e7a" stroke-width="0.74"/>
<text transform="translate(402.6 526) scale(1 1.09)" font-size="9.1" text-anchor="middle">-100</text>
<text transform="translate(451.92 526) scale(1 1.09)" font-size="9.1" text-anchor="middle">0</text>
<text transform="translate(501.24 526) scale(1 1.09)" font-size="9.1" text-anchor="middle">100</text>
<text transform="translate(550.56 526) scale(1 1.09)" font-size="9.1" text-anchor="middle">200</text>
<text transform="translate(599.88 526) scale(1 1.09)" font-size="9.1" text-anchor="middle">300</text>
<text transform="translate(649.2 526) scale(1 1.09)" font-size="9.1" text-anchor="middle">400</text>
<text transform="translate(385.9 510.75) scale(1 1.09)" font-size="9.1" text-anchor="end">-50</text>
<text transform="translate(385.9 490.6) scale(1 1.09)" font-size="9.1" text-anchor="end">0</text>
<text transform="translate(385.9 470.44) scale(1 1.09)" font-size="9.1" text-anchor="end">50</text>
<text transform="translate(385.9 450.29) scale(1 1.09)" font-size="9.1" text-anchor="end">100</text>
<text transform="translate(385.9 430.14) scale(1 1.09)" font-size="9.1" text-anchor="end">150</text>
<text transform="translate(385.9 409.99) scale(1 1.09)" font-size="9.1" text-anchor="end">200</text>
<text transform="translate(385.9 389.83) scale(1 1.09)" font-size="9.1" text-anchor="end">250</text>
<text transform="translate(385.9 369.68) scale(1 1.09)" font-size="9.1" text-anchor="end">300</text>
<text transform="translate(385.9 349.53) scale(1 1.09)" font-size="9.1" text-anchor="end">350</text>
<text transform="translate(385.9 329.38) scale(1 1.09)" font-size="9.1" text-anchor="end">400</text>
<text transform="translate(385.9 309.22) scale(1 1.09)" font-size="9.1" text-anchor="end">450</text>
<text transform="translate(385.9 289.07) scale(1 1.09)" font-size="9.1" text-anchor="end">500</text>
<text transform="translate(534.01 538.6) scale(1 1)" font-size="9.85" text-anchor="middle">Measured</text>
<text transform="translate(365 400.08) rotate(-90) scale(1 0.98)" font-size="9.85" text-anchor="middle">Predicted</text>
<rect x="396.4" y="292.56" width="188.36" height="45.37" fill="#ffffff" stroke="#4a4a4a" stroke-width="0.9"/>
<circle cx="412.4" cy="299.31" r="2.55" fill="none" stroke="#0f3e7a" stroke-width="0.8"/>
<line x1="399" y1="310.2" x2="425.9" y2="310.2" stroke="#8e2c12" stroke-width="0.75"/>
<path d="M409.2 318.94L415.6 318.94L412.4 324.44Z" fill="none" stroke="#c98a0c" stroke-width="0.8"/>
<line x1="399" y1="331.98" x2="425.9" y2="331.98" stroke="#2f1b47" stroke-width="0.75"/>
<text transform="translate(427.8 302.41) scale(1 1.09)" font-size="8.15">BBOMLP-Train Data Np500</text>
<text transform="translate(427.8 313.3) scale(1 1.09)" font-size="8.15">Regression line (y = 1.02159*x + -4.53894)</text>
<text transform="translate(427.8 324.19) scale(1 1.09)" font-size="8.15">BBOMLP-Test Data Np500</text>
<text transform="translate(427.8 335.08) scale(1 1.09)" font-size="8.15">Regression line (y = 0.90051*x + 49.16276)</text>
</g>
<rect x="127" y="-1" width="103" height="1.8" fill="#ffffff" opacity="0.85"/>
<rect x="477" y="-1" width="103" height="1.8" fill="#ffffff" opacity="0.85"/>
<rect x="208.8" y="-1" width="1.6" height="1.9" fill="#222222"/>
<rect x="562.1" y="-1" width="1.6" height="1.9" fill="#222222"/>
<text transform="translate(92.6 279.2) scale(1 1.06)" font-size="16.5" class="cap">(g) BBO-MLP- N<tspan font-size="10.5" dy="2.5">p</tspan><tspan dy="-2.5">350</tspan></text>
<text transform="translate(441 278.9) scale(1 1.06)" font-size="16.5" class="cap">(h) BBO-MLP- N<tspan font-size="10.5" dy="2.5">p</tspan><tspan dy="-2.5">400</tspan></text>
<text transform="translate(94.5 561.7) scale(1 1.06)" font-size="16.5" class="cap">(i) BBO-MLP- N<tspan font-size="10.5" dy="2.5">p</tspan><tspan dy="-2.5">450</tspan></text>
<text transform="translate(443 561.1) scale(1 1.06)" font-size="16.5" class="cap">(j) BBO-MLP- N<tspan font-size="10.5" dy="2.5">p</tspan><tspan dy="-2.5">500</tspan></text>
</g>
</svg>
</body></html>
